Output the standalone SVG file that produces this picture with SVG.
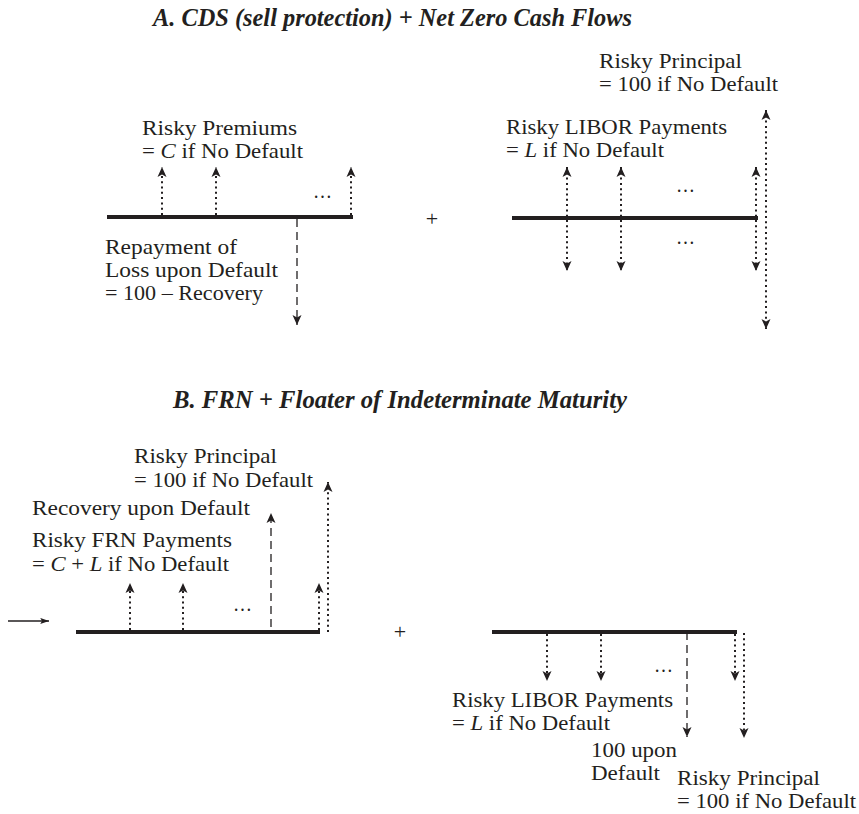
<svg xmlns="http://www.w3.org/2000/svg" width="859" height="814" viewBox="0 0 859 814">
<style>
text{font-family:"Liberation Serif","Times New Roman",serif;font-size:22px;fill:#231f20}
.title{font-size:25px;font-weight:bold;font-style:italic}
.it{font-style:italic}
.tl{stroke:#231f20;stroke-width:4;fill:none}
.dot{stroke:#231f20;stroke-width:2;stroke-dasharray:2 3.3;fill:none}
.dash{stroke:#231f20;stroke-width:1.3;stroke-dasharray:8 5;fill:none}
.solid{stroke:#231f20;stroke-width:1.3;fill:none}
.ae{marker-end:url(#ah)}
.ab{marker-start:url(#ah);marker-end:url(#ah)}
</style>
<defs>
<marker id="ah" viewBox="0 0 10 10" refX="10" refY="5" markerWidth="11" markerHeight="10" markerUnits="userSpaceOnUse" orient="auto-start-reverse">
<path d="M0,0.5 L10,5 L0,9.5 L2.5,5 z" fill="#231f20"/>
</marker>
<marker id="sh" viewBox="0 0 10 8" refX="10" refY="4" markerWidth="9" markerHeight="7" markerUnits="userSpaceOnUse" orient="auto">
<path d="M0,0.5 L10,4 L0,7.5 L2,4 z" fill="#231f20"/>
</marker>
</defs>
<rect width="859" height="814" fill="#fff"/>

<g id="titles">
<text id="titleA" class="title" x="153" y="26" textLength="479" lengthAdjust="spacingAndGlyphs">A. CDS (sell protection) + Net Zero Cash Flows</text>
<text id="titleB" class="title" x="173" y="408" textLength="454" lengthAdjust="spacingAndGlyphs">B. FRN + Floater of Indeterminate Maturity</text>
</g>

<g id="connectors">
<!-- Panel A left -->
<line class="tl" x1="107" y1="217" x2="353" y2="217"/>
<line class="dot ae" x1="162" y1="215" x2="162" y2="167"/>
<line class="dot ae" x1="216" y1="215" x2="216" y2="167"/>
<line class="dot ae" x1="351" y1="215" x2="351" y2="167"/>
<line class="dash ae" x1="297" y1="219" x2="297" y2="325"/>
<!-- Panel A right -->
<line class="tl" x1="512" y1="218" x2="758" y2="218"/>
<line class="dot ab" x1="567" y1="167" x2="567" y2="271"/>
<line class="dot ab" x1="621" y1="167" x2="621" y2="271"/>
<line class="dot ab" x1="756" y1="167" x2="756" y2="271"/>
<line class="dot ab" x1="766" y1="110" x2="766" y2="329"/>
<!-- Panel B left -->
<line class="solid" x1="8" y1="621" x2="49" y2="621" marker-end="url(#sh)"/>
<line class="tl" x1="76" y1="632" x2="320" y2="632"/>
<line class="dot ae" x1="130" y1="630" x2="130" y2="583"/>
<line class="dot ae" x1="183" y1="630" x2="183" y2="583"/>
<line class="dot ae" x1="319" y1="630" x2="319" y2="583"/>
<line class="dot ae" x1="328" y1="632" x2="328" y2="482"/>
<line class="dash ae" x1="271" y1="627" x2="271" y2="513"/>
<!-- Panel B right -->
<line class="tl" x1="492" y1="632" x2="737" y2="632"/>
<line class="dot ae" x1="547" y1="634" x2="547" y2="681"/>
<line class="dot ae" x1="601" y1="634" x2="601" y2="681"/>
<line class="dot ae" x1="735" y1="634" x2="735" y2="681"/>
<line class="dot ae" x1="744" y1="633" x2="744" y2="738"/>
<line class="dash ae" x1="687" y1="632" x2="687" y2="737"/>
</g>

<g id="ellipses">
<text x="313" y="198" textLength="19" lengthAdjust="spacingAndGlyphs">…</text>
<text x="676" y="192" textLength="19" lengthAdjust="spacingAndGlyphs">…</text>
<text x="676" y="244" textLength="19" lengthAdjust="spacingAndGlyphs">…</text>
<text x="233" y="611" textLength="19" lengthAdjust="spacingAndGlyphs">…</text>
<text x="654" y="672" textLength="19" lengthAdjust="spacingAndGlyphs">…</text>
</g>

<g id="plusA"><text x="432" y="226" text-anchor="middle">+</text></g>
<g id="plusB"><text x="400" y="639" text-anchor="middle">+</text></g>

<g id="A-premiums">
<text x="142" y="135" textLength="155" lengthAdjust="spacingAndGlyphs">Risky Premiums</text>
<text x="142" y="158" textLength="161" lengthAdjust="spacingAndGlyphs">= <tspan class="it">C</tspan> if No Default</text>
</g>
<g id="A-repayment">
<text x="105" y="254" textLength="132" lengthAdjust="spacingAndGlyphs">Repayment of</text>
<text x="105" y="277" textLength="173" lengthAdjust="spacingAndGlyphs">Loss upon Default</text>
<text x="105" y="300" textLength="158" lengthAdjust="spacingAndGlyphs">= 100 – Recovery</text>
</g>
<g id="A-principal">
<text x="599" y="68" textLength="143" lengthAdjust="spacingAndGlyphs">Risky Principal</text>
<text x="599" y="91" textLength="179" lengthAdjust="spacingAndGlyphs">= 100 if No Default</text>
</g>
<g id="A-libor">
<text x="506" y="134" textLength="221" lengthAdjust="spacingAndGlyphs">Risky LIBOR Payments</text>
<text x="506" y="157" textLength="158" lengthAdjust="spacingAndGlyphs">= <tspan class="it">L</tspan> if No Default</text>
</g>

<g id="B-principal">
<text x="134" y="463" textLength="143" lengthAdjust="spacingAndGlyphs">Risky Principal</text>
<text x="134" y="487" textLength="179" lengthAdjust="spacingAndGlyphs">= 100 if No Default</text>
</g>
<g id="B-recovery">
<text x="32" y="515" textLength="218" lengthAdjust="spacingAndGlyphs">Recovery upon Default</text>
</g>
<g id="B-frn">
<text x="32" y="547" textLength="200" lengthAdjust="spacingAndGlyphs">Risky FRN Payments</text>
<text x="32" y="571" textLength="197" lengthAdjust="spacingAndGlyphs">= <tspan class="it">C</tspan> + <tspan class="it">L</tspan> if No Default</text>
</g>
<g id="B-libor">
<text x="452" y="707" textLength="221" lengthAdjust="spacingAndGlyphs">Risky LIBOR Payments</text>
<text x="452" y="730" textLength="158" lengthAdjust="spacingAndGlyphs">= <tspan class="it">L</tspan> if No Default</text>
</g>
<g id="B-default">
<text x="591" y="757" textLength="86" lengthAdjust="spacingAndGlyphs">100 upon</text>
<text x="591" y="780" textLength="69" lengthAdjust="spacingAndGlyphs">Default</text>
</g>
<g id="B-principal2">
<text x="677" y="785" textLength="143" lengthAdjust="spacingAndGlyphs">Risky Principal</text>
<text x="677" y="808" textLength="179" lengthAdjust="spacingAndGlyphs">= 100 if No Default</text>
</g>
</svg>
